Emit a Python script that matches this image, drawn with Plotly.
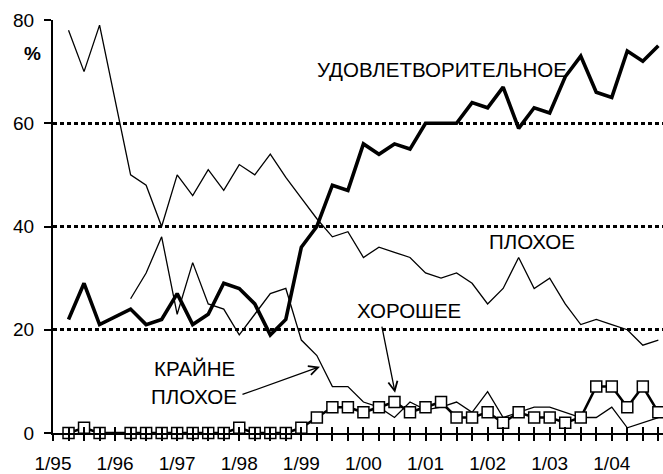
import plotly.graph_objects as go

# ---- data -------------------------------------------------------------
years = list(range(1995, 2005))
quarters = [f"{q}/{y % 100:02d}" for y in years for q in (1, 2, 3, 4)]   # 1/95 ... 4/04
obs_quarters = quarters[1:]                                                # 2/95 ... 4/04
year_labels = [f"1/{y % 100:02d}" for y in years]

satisfactory = [22, 29, 21, 22.5, 24, 21, 22, 27, 21, 23,
                29, 28, 25, 19, 22, 36, 40, 48, 47, 56,
                54, 56, 55, 60, 60, 60, 64, 63, 67, 59,
                63, 62, 69, 73, 66, 65, 74, 72, 75]
bad = [78, 70, 79, 64.5, 50, 48, 40, 50, 46, 51,
       47, 52, 50, 54, 49.5, 45.5, 41.5, 38, 39, 34,
       36, 35, 34, 31, 30, 31, 29, 25, 28, 34,
       28, 30, 25, 21, 22, 21, 20, 17, 18]
extremely_bad = [None, None, None, None, 26, 31, 38, 23, 33, 25,
                 24, 19, 23, 27, 28, 18, 15, 9, 9, 6,
                 5, 3, 6, 4.5, 5, 6, 4, 8, 3, 4,
                 5, 5, 4, 3, 3, 5, 1, 2, 3]
good = [0, 1, 0, None, 0, 0, 0, 0, 0, 0,
        0, 1, 0, 0, 0, 1, 3, 5, 5, 4,
        5, 6, 4, 5, 6, 3, 3, 4, 2, 4,
        3, 3, 2, 3, 9, 9, 5, 9, 4]

label_satisfactory = "УДОВЛЕТВОРИТЕЛЬНОЕ"
label_bad = "ПЛОХОЕ"
label_good = "ХОРОШЕЕ"
label_extreme = ["КРАЙНЕ", "ПЛОХОЕ"]
unit_label = "%"

# ---- positions ----------------------------------------------------------
xpos = [quarters.index(q) for q in obs_quarters]
all_ticks = list(range(len(quarters)))
tick_text = [q if q in year_labels else "" for q in quarters]

FONT = "Liberation Sans, Arial, sans-serif"
BLACK = "black"
XR = [0, 39.3]
ANN = 20.5

fig = go.Figure()
fig.add_trace(go.Scatter(x=xpos, y=bad, mode="lines",
                         line=dict(color=BLACK, width=1.3), showlegend=False))
fig.add_trace(go.Scatter(x=xpos, y=extremely_bad, mode="lines",
                         line=dict(color=BLACK, width=1.3), showlegend=False))
fig.add_trace(go.Scatter(x=xpos, y=satisfactory, mode="lines",
                         line=dict(color=BLACK, width=3.6), showlegend=False))
fig.add_trace(go.Scatter(x=xpos, y=good, mode="lines+markers", connectgaps=True,
                         line=dict(color=BLACK, width=2.6),
                         marker=dict(symbol="square", size=11, color="white",
                                     line=dict(color=BLACK, width=1.5)),
                         cliponaxis=False, showlegend=False))
# empty trace so that the overlay axis (inner half of the x ticks) is drawn
fig.add_trace(go.Scatter(x=[], y=[], xaxis="x2", yaxis="y", showlegend=False,
                         hoverinfo="skip"))

annotations = [
    dict(x=-0.033, y=0.918, xref="paper", yref="paper", xanchor="center", yanchor="middle",
         text="<b>" + unit_label + "</b>", showarrow=False, font=dict(size=19)),
    dict(x=16.9, y=70.5, text=label_satisfactory, showarrow=False, xanchor="left",
         font=dict(size=ANN)),
    dict(x=27.94, y=37.1, text=label_bad, showarrow=False, xanchor="left",
         font=dict(size=ANN)),
    dict(x=19.46, y=23.7, text=label_good, showarrow=False, xanchor="left",
         font=dict(size=ANN)),
    dict(x=9.085, y=12.4, text=label_extreme[0], showarrow=False, font=dict(size=ANN)),
    dict(x=9.085, y=7.07, text=label_extreme[1], showarrow=False, font=dict(size=ANN)),
    dict(x=17.2, y=12.84, ax=12.11, ay=7.36, axref="x", ayref="y", text="",
         showarrow=True, arrowhead=5, arrowsize=1.4, arrowwidth=1.3, arrowcolor=BLACK),
    dict(x=22.04, y=7.8, ax=21.17, ay=20.9, axref="x", ayref="y", text="",
         showarrow=True, arrowhead=5, arrowsize=1.4, arrowwidth=1.3, arrowcolor=BLACK),
]
for a in annotations:
    a.setdefault("xref", "x")
    a.setdefault("yref", "y")

fig.update_layout(
    width=663, height=474,
    margin=dict(l=53, r=0, t=20, b=41),
    paper_bgcolor="white", plot_bgcolor="white",
    font=dict(family=FONT, size=19, color=BLACK),
    annotations=annotations,
    xaxis=dict(range=XR, tickmode="array", tickvals=all_ticks, ticktext=tick_text,
               ticks="outside", ticklen=6, tickwidth=1.5, tickcolor=BLACK,
               showline=True, linewidth=2, linecolor=BLACK, automargin=False,
               showgrid=False, zeroline=False, ticklabelstandoff=6,
               tickfont=dict(size=19)),
    xaxis2=dict(range=XR, overlaying="x", anchor="y", side="bottom",
                tickmode="array", tickvals=all_ticks, showticklabels=False,
                ticks="inside", ticklen=6, tickwidth=1.5, tickcolor=BLACK,
                showline=False, showgrid=False, zeroline=False, automargin=False),
    yaxis=dict(range=[0, 80], tickmode="array", tickvals=[0, 20, 40, 60, 80],
               ticks="outside", ticklen=7, tickwidth=1.5, tickcolor=BLACK,
               showline=True, linewidth=2, linecolor=BLACK, automargin=False,
               showgrid=True, gridcolor=BLACK, gridwidth=2.5, griddash="4px,3px",
               zeroline=False, ticklabelstandoff=6, tickfont=dict(size=19)),
)

fig.write_html("out.html",
               config={"displayModeBar": False},
               post_script="document.body.style.margin='0px';"
                           "document.body.style.overflow='hidden';")
